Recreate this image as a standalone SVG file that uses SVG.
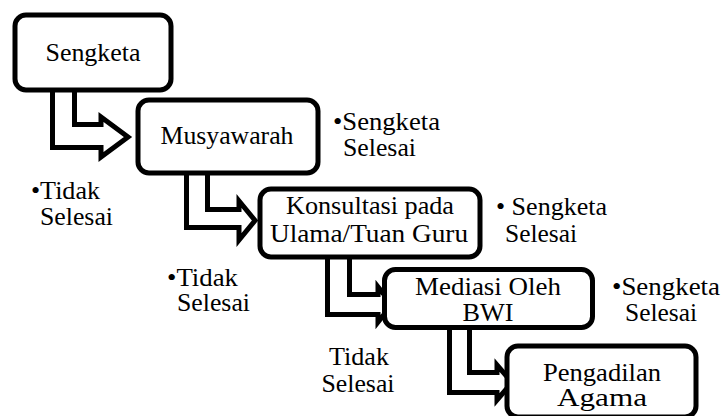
<svg xmlns="http://www.w3.org/2000/svg" width="724" height="416" viewBox="0 0 724 416">
<style>
.box{fill:#fff;stroke:#000;stroke-width:5}
.arr{fill:#fff;stroke:#000;stroke-width:5;stroke-linejoin:miter}
.c{text-anchor:middle}
text{font-family:'Liberation Serif','DejaVu Serif',serif;font-size:25px;fill:#000}
</style>
<rect width="724" height="416" fill="#fff"/>
<g id="connectors">
<path class="arr" d="M52.5,90 V147.5 H101 V157 L128,137 L101,117 V124.5 H74.5 V90"/>
<path class="arr" d="M186.5,173 V227.5 H239 V240 L255,220.5 L239,201 V209.5 H207.5 V173"/>
<path class="arr" d="M327.5,257 V314.5 H378 V322 L392,304.5 L378,287 V294.5 H349.5 V257"/>
<path class="arr" d="M449.5,328 V392.5 H497 V400 L512,382.5 L497,365 V372.5 H469.5 V328"/>
</g>
<g id="n1"><rect class="box" x="15" y="15" width="156" height="75" rx="11"/><text class="c" x="93" y="61" textLength="95" lengthAdjust="spacingAndGlyphs">Sengketa</text></g>
<g id="n2"><rect class="box" x="138" y="100" width="180" height="73" rx="11"/><text class="c" x="227" y="144" textLength="133" lengthAdjust="spacingAndGlyphs">Musyawarah</text></g>
<g id="n3"><rect class="box" x="260" y="189" width="220" height="68" rx="11"/><text class="c" x="370" y="214" textLength="168" lengthAdjust="spacingAndGlyphs">Konsultasi pada</text><text class="c" x="369" y="242" textLength="198" lengthAdjust="spacingAndGlyphs">Ulama/Tuan Guru</text></g>
<g id="n4"><rect class="box" x="384.5" y="269.5" width="208" height="58" rx="11"/><text class="c" x="488" y="295" textLength="146" lengthAdjust="spacingAndGlyphs">Mediasi Oleh</text><text class="c" x="488" y="321" textLength="51" lengthAdjust="spacingAndGlyphs">BWI</text></g>
<g id="n5"><rect class="box" x="507" y="346" width="189" height="71" rx="11"/><text class="c" x="602" y="381" textLength="118" lengthAdjust="spacingAndGlyphs">Pengadilan</text><text class="c" x="602" y="406" textLength="90" lengthAdjust="spacingAndGlyphs">Agama</text></g>
<g id="labels">
<text x="333" y="130" textLength="107" lengthAdjust="spacingAndGlyphs">•Sengketa</text><text x="343" y="156" textLength="73" lengthAdjust="spacingAndGlyphs">Selesai</text>
<text x="31" y="199" textLength="69" lengthAdjust="spacingAndGlyphs">•Tidak</text><text x="40" y="225" textLength="73" lengthAdjust="spacingAndGlyphs">Selesai</text>
<text x="167" y="286" textLength="71" lengthAdjust="spacingAndGlyphs">•Tidak</text><text x="177" y="311" textLength="73" lengthAdjust="spacingAndGlyphs">Selesai</text>
<text x="496" y="215" textLength="111" lengthAdjust="spacingAndGlyphs">• Sengketa</text><text x="505" y="242" textLength="72" lengthAdjust="spacingAndGlyphs">Selesai</text>
<text x="612" y="295" textLength="108" lengthAdjust="spacingAndGlyphs">•Sengketa</text><text x="625" y="321" textLength="72" lengthAdjust="spacingAndGlyphs">Selesai</text>
<text class="c" x="359" y="365" textLength="60" lengthAdjust="spacingAndGlyphs">Tidak</text><text class="c" x="358" y="392" textLength="73" lengthAdjust="spacingAndGlyphs">Selesai</text>
</g>
</svg>
